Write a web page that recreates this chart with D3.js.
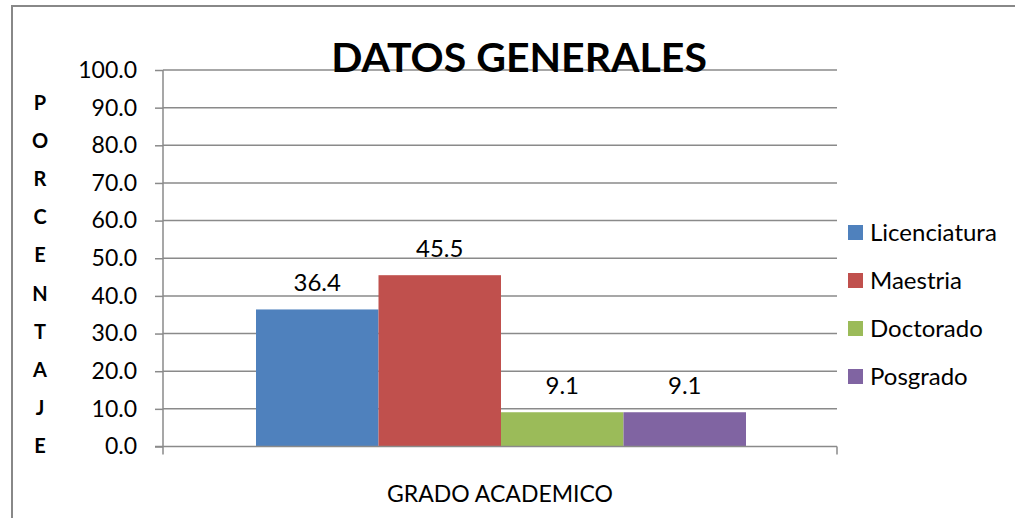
<!DOCTYPE html>
<html>
<head>
<meta charset="utf-8">
<script src="https://cdn.jsdelivr.net/npm/d3@7"></script>
<style>
  body { margin: 0; background: #fff; }
  text { font-family: Lato, "Open Sans", sans-serif; fill: #000; }
</style>
</head>
<body>
<div class="container"></div>
<script>
var categories = ['Licenciatura', 'Maestria', 'Doctorado', 'Posgrado'];
var values = [36.4, 45.5, 9.1, 9.1];
var colors = ['#4f81bd', '#c0504d', '#9bbb59', '#8064a2'];
var yTicks = [0, 10, 20, 30, 40, 50, 60, 70, 80, 90, 100];
var yTitleLetters = 'PORCENTAJE'.split('');

var WIDTH = 1015, HEIGHT = 518;
var plot = {left: 163, right: 837, top: 70, bottom: 446.5};
var gridColor = '#8a8a8a';

var svg = d3.select('.container').append('svg')
    .attr('width', WIDTH)
    .attr('height', HEIGHT);

// chart frame (runs past the right/bottom edge like the original)
svg.append('rect')
    .attr('x', 12).attr('y', 6)
    .attr('width', 1020).attr('height', 530)
    .attr('fill', '#fff')
    .attr('stroke', '#888')
    .attr('stroke-width', 2);

var yScale = d3.scaleLinear().domain([0, 100]).range([plot.bottom, plot.top]);

// one category band, bars side by side (gap width 150%)
var xGroup = d3.scaleBand().domain(categories)
    .range([256, 746]);

// gridlines
svg.append('g').selectAll('line')
    .data(yTicks.filter(function (d) { return d > 0; }))
    .enter().append('line')
    .attr('x1', plot.left).attr('x2', plot.right)
    .attr('y1', function (d) { return yScale(d); })
    .attr('y2', function (d) { return yScale(d); })
    .attr('stroke', gridColor).attr('stroke-width', 1.5);

// y axis
var yAxis = d3.axisLeft(yScale)
    .tickValues(yTicks)
    .tickSize(8)
    .tickPadding(18)
    .tickFormat(d3.format('.1f'));
var yg = svg.append('g')
    .attr('transform', 'translate(' + plot.left + ',0)')
    .call(yAxis);
yg.select('.domain').remove();
yg.append('line')
    .attr('x1', 0).attr('x2', 0)
    .attr('y1', plot.top).attr('y2', plot.bottom + 8)
    .attr('stroke', gridColor).attr('stroke-width', 1.5);
yg.selectAll('.tick line').attr('stroke', gridColor).attr('stroke-width', 1.5);
yg.selectAll('.tick text')
    .style('font-size', '23px')
    .attr('fill', '#000');

// bars
svg.append('g').selectAll('rect')
    .data(values)
    .enter().append('rect')
    .attr('x', function (d, i) { return xGroup(categories[i]); })
    .attr('width', xGroup.bandwidth())
    .attr('y', function (d) { return yScale(d); })
    .attr('height', function (d) { return plot.bottom - yScale(d); })
    .attr('fill', function (d, i) { return colors[i]; });

// x axis line
svg.append('line')
    .attr('x1', plot.left - 8).attr('x2', plot.right)
    .attr('y1', plot.bottom).attr('y2', plot.bottom)
    .attr('stroke', gridColor).attr('stroke-width', 1.5);
svg.append('line')
    .attr('x1', plot.right).attr('x2', plot.right)
    .attr('y1', plot.bottom).attr('y2', plot.bottom + 8)
    .attr('stroke', gridColor).attr('stroke-width', 1.5);

// value labels
svg.append('g').selectAll('text')
    .data(values)
    .enter().append('text')
    .attr('x', function (d, i) { return xGroup(categories[i]) + xGroup.bandwidth() / 2; })
    .attr('y', function (d) { return yScale(d) - 18; })
    .attr('text-anchor', 'middle')
    .style('font-size', '24px')
    .text(function (d) { return d.toFixed(1); });

// title
svg.append('text')
    .attr('x', 519).attr('y', 72)
    .attr('text-anchor', 'middle')
    .style('font-size', '41px')
    .style('font-weight', 'bold')
    .text('DATOS GENERALES');

// x axis title
svg.append('text')
    .attr('x', 500).attr('y', 502)
    .attr('text-anchor', 'middle')
    .style('font-size', '23px')
    .text('GRADO ACADEMICO');

// y axis title, stacked letters
svg.append('g').selectAll('text')
    .data(yTitleLetters)
    .enter().append('text')
    .attr('x', 40)
    .attr('y', function (d, i) { return 110 + i * 38.1; })
    .attr('text-anchor', 'middle')
    .style('font-size', '20px')
    .style('font-weight', 'bold')
    .text(function (d) { return d; });

// legend
var legend = svg.append('g').selectAll('g')
    .data(categories)
    .enter().append('g')
    .attr('transform', function (d, i) { return 'translate(848,' + (232 + i * 48) + ')'; });
legend.append('rect')
    .attr('x', 0).attr('y', -7)
    .attr('width', 15).attr('height', 15)
    .attr('fill', function (d, i) { return colors[i]; });
legend.append('text')
    .attr('x', 22).attr('y', 8.5)
    .style('font-size', '24px')
    .text(function (d) { return d; });
</script>
</body>
</html>
